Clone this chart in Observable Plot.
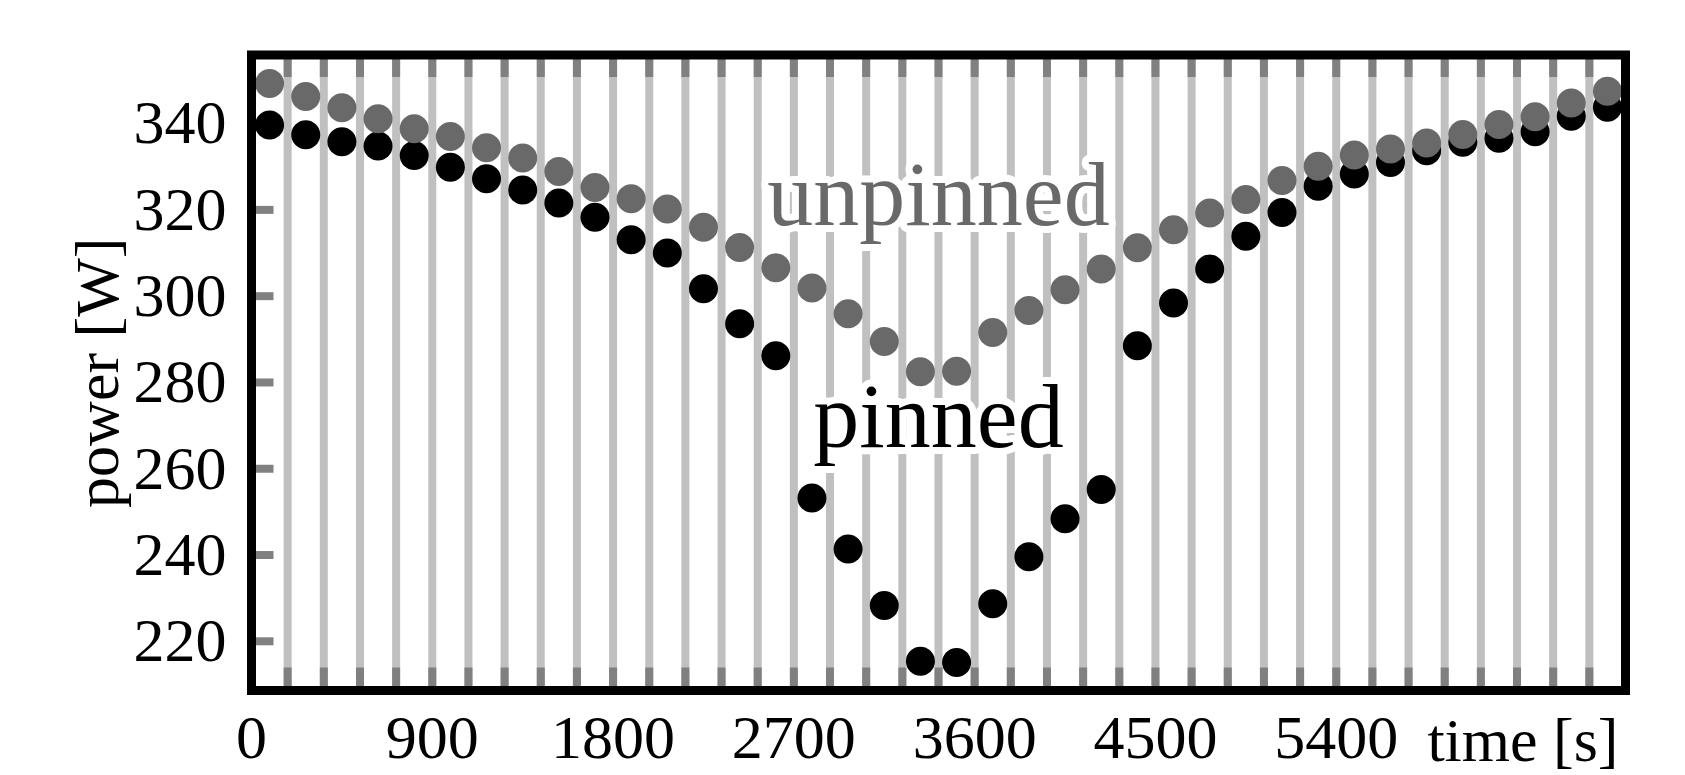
<!DOCTYPE html>
<html>
<head>
<meta charset="utf-8">
<script src="https://cdn.jsdelivr.net/npm/d3@7"></script>
<script src="https://cdn.jsdelivr.net/npm/@observablehq/plot@0.6"></script>
<style>
  html, body { margin: 0; padding: 0; background: #fff; }
  #chart svg { display: block; }
</style>
</head>
<body>
<div id="chart"></div>
<script>
// time of each sample [s]
const time = [90, 270, 450, 630, 810, 990, 1170, 1350, 1530, 1710,
  1890, 2070, 2250, 2430, 2610, 2790, 2970, 3150, 3330, 3510,
  3690, 3870, 4050, 4230, 4410, 4590, 4770, 4950, 5130, 5310,
  5490, 5670, 5850, 6030, 6210, 6390, 6570, 6750];

// power [W], pinned
const pinned = [339.7, 337.4, 335.8, 334.8, 332.6, 329.9, 327.2, 324.6, 321.6, 318.3,
  313.1, 310.0, 301.7, 293.6, 286.2, 253.2, 241.4, 228.3, 215.4, 215.1,
  228.7, 239.6, 248.4, 255.2, 288.5, 298.4, 306.3, 313.9, 319.4, 325.5,
  328.3, 331.0, 333.7, 335.7, 336.6, 338.1, 341.7, 343.8];

// power [W], unpinned
const unpinned = [349.3, 346.3, 343.7, 341.1, 338.8, 337.0, 334.4, 332.0, 328.9, 325.2,
  322.6, 320.2, 316.0, 311.3, 306.6, 301.9, 295.9, 289.5, 282.5, 282.6,
  291.6, 296.7, 301.5, 306.3, 311.2, 315.4, 319.3, 322.4, 326.8, 330.1,
  332.7, 334.1, 335.5, 337.5, 339.8, 341.6, 344.8, 347.5];

// axis ticks
const xTickValues = [0, 900, 1800, 2700, 3600, 4500, 5400];
const xTickLabels = ["0", "900", "1800", "2700", "3600", "4500", "5400"];
const yTickValues = [220, 240, 260, 280, 300, 320, 340];
const yTickLabels = ["220", "240", "260", "280", "300", "320", "340"];
const minorXTicks = [180, 360, 540, 720, 900, 1080, 1260, 1440, 1620, 1800,
  1980, 2160, 2340, 2520, 2700, 2880, 3060, 3240, 3420, 3600,
  3780, 3960, 4140, 4320, 4500, 4680, 4860, 5040, 5220, 5400,
  5580, 5760, 5940, 6120, 6300, 6480, 6660];
const xDomain = [0, 6840];
const yDomain = [208.6, 355.9];

// series annotations
const seriesNames = ["unpinned", "pinned"];
const seriesLabelX = [3420, 3420];
const seriesLabelY = [316.6, 265.0];
const seriesColors = ["#696969", "#000000"];

const W = 1685, H = 775;
const mL = 251, mR = 60, mT = 54.5, mB = 85;
const plotW = W - mL - mR, plotH = H - mT - mB;
const tickLen = 22.5;
const FONT = "'Liberation Serif', 'Times New Roman', serif";

const pinnedData = time.map((t, i) => ({t, p: pinned[i]}));
const unpinnedData = time.map((t, i) => ({t, p: unpinned[i]}));
const labelData = seriesNames.map((name, i) => ({name, x: seriesLabelX[i], y: seriesLabelY[i], c: seriesColors[i]}));

const chart = Plot.plot({
  width: W,
  height: H,
  marginLeft: mL,
  marginRight: mR,
  marginTop: mT,
  marginBottom: mB,
  style: {fontFamily: FONT, background: "#fff", overflow: "visible"},
  x: {domain: xDomain, axis: null},
  y: {domain: yDomain, axis: null},
  marks: [
    // light gray vertical grid lines
    Plot.ruleX(minorXTicks, {x: d => d, stroke: "#c0c0c0", strokeWidth: 8}),
    // darker inward ticks, bottom and top
    Plot.tickX(minorXTicks, {x: d => d, stroke: "#808080", strokeWidth: 8, insetTop: plotH - tickLen}),
    Plot.tickX(minorXTicks, {x: d => d, stroke: "#808080", strokeWidth: 8, insetBottom: plotH - tickLen}),
    // y ticks on the left inner side
    Plot.tickY(yTickValues, {y: d => d, stroke: "#808080", strokeWidth: 8, insetRight: plotW - tickLen}),
    // series labels with white halo
    Plot.text(labelData, {
      x: "x", y: "y", text: "name", fill: "c",
      fontSize: 92, lineAnchor: "bottom", textAnchor: "middle",
      stroke: "white", strokeWidth: 14, strokeLinejoin: "round"
    }),
    // data points
    Plot.dot(pinnedData, {x: "t", y: "p", r: 14.5, fill: "#000000", stroke: null}),
    Plot.dot(unpinnedData, {x: "t", y: "p", r: 14.5, fill: "#696969", stroke: null}),
    // tick labels
    Plot.text(xTickValues, {
      x: d => d, text: (d, i) => xTickLabels[i], frameAnchor: "bottom",
      lineAnchor: "bottom", dy: 67, fontSize: 62, fill: "#000", textAnchor: "middle"
    }),
    Plot.text(yTickValues, {
      y: d => d, text: (d, i) => yTickLabels[i], frameAnchor: "left",
      textAnchor: "end", lineAnchor: "middle", dx: -25, fontSize: 62, fill: "#000"
    }),
    // axis labels
    Plot.text(["time [s]"], {
      text: d => d, frameAnchor: "bottom-right", textAnchor: "end",
      lineAnchor: "bottom", dx: -7, dy: 70, fontSize: 62, fill: "#000"
    }),
    Plot.text(["power [W]"], {
      text: d => d, frameAnchor: "left", textAnchor: "middle",
      lineAnchor: "bottom", rotate: -90, dx: -134, fontSize: 62, fill: "#000"
    }),
    // thick black frame
    Plot.frame({stroke: "#000", strokeWidth: 9})
  ]
});

document.getElementById("chart").appendChild(chart);
</script>
</body>
</html>
